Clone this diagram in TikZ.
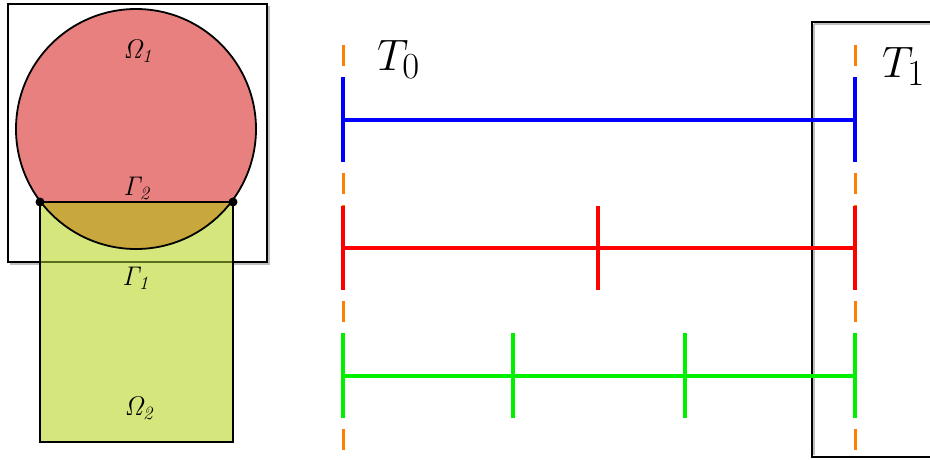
\documentclass[tikz,border=0pt]{standalone}
\usepackage{graphicx}
\usepackage{tikz}
\definecolor{circred}{RGB}{233,128,128}
\definecolor{rectgreen}{RGB}{212,230,124}
\definecolor{overlapc}{RGB}{200,168,60}
\definecolor{olivec}{RGB}{90,110,30}
\definecolor{tblue}{RGB}{0,0,255}
\definecolor{tred}{RGB}{255,0,0}
\definecolor{tgreen}{RGB}{0,240,0}
\definecolor{torange}{RGB}{255,128,0}
\tikzset{
  frame/.style={draw=black,line width=2pt},
  shadowline/.style={draw=black!25,line width=2pt},
  outline/.style={draw=black,line width=1.8pt},
  dlabel/.style={inner sep=0pt,anchor=base,font=\huge},
  tlabel/.style={inner sep=0pt,anchor=base west,font=\Huge},
  tline/.style={line width=3.5pt},
  guide/.style={draw=torange,line width=3pt,dash pattern=on 21pt off 11pt},
  jdot/.style={circle,fill=black,inner sep=0pt,minimum size=9pt}
}
\newcommand{\bigT}[1]{\scalebox{1.77}{$T_{#1}$}}
\newcommand{\glab}[2]{\scalebox{1.3}{$\mathit{#1}_{\mathit{#2}}$}}
\begin{document}
\begin{tikzpicture}[x=1pt,y=-1pt]
\useasboundingbox (0,0) rectangle (930,459);
% ---------- left panel ----------
\draw[shadowline] (10,264) -- (269,264) -- (269,6);
\draw[frame] (8,4) rectangle (267,262);
\fill[circred] (136,129) circle (120pt);
\fill[rectgreen] (40,202) rectangle (233,442);
\begin{scope}
  \clip (40,202) rectangle (233,442);
  \fill[overlapc] (136,129) circle (120pt);
\end{scope}
\draw[olivec,line width=2pt] (41,262) -- (232,262);
\draw[outline] (136,129) circle (120pt);
\draw[outline] (40,202) rectangle (233,442);
\node[jdot] (pl) at (40,202) {};
\node[jdot] (pr) at (233,202) {};
\node[dlabel] (om1) at (139,58) {\glab{\Omega}{1}};
\node[dlabel] (ga2) at (138,195) {\glab{\Gamma}{2}};
\node[dlabel] (ga1) at (137,285) {\glab{\Gamma}{1}};
\node[dlabel] (om2) at (140,415) {\glab{\Omega}{2}};
% ---------- right panel ----------
\draw[shadowline] (814,24) -- (945,24);
\draw[shadowline] (814,24) -- (814,455);
\draw[frame] (812,22) rectangle (945,457);
% guides
\coordinate (g0t) at (343,45); \coordinate (g0b) at (343,451);
\coordinate (g1t) at (855,45); \coordinate (g1b) at (855,451);
\draw[guide] (g0t) -- (g0b);
\draw[guide] (g1t) -- (g1b);
% blue
\coordinate (b0) at (343,120); \coordinate (b1) at (855,120);
\coordinate (b0t) at (343,77); \coordinate (b0b) at (343,162);
\coordinate (b1t) at (855,77); \coordinate (b1b) at (855,162);
\draw[tline,tblue] (b0) -- (b1);
\draw[tline,tblue] (b0t) -- (b0b);
\draw[tline,tblue] (b1t) -- (b1b);
% red
\coordinate (r0) at (343,248); \coordinate (r1) at (855,248);
\coordinate (r0t) at (343,206); \coordinate (r0b) at (343,290);
\coordinate (rmt) at (598,206); \coordinate (rmb) at (598,290);
\coordinate (r1t) at (855,206); \coordinate (r1b) at (855,290);
\draw[tline,tred] (r0) -- (r1);
\draw[tline,tred] (r0t) -- (r0b);
\draw[tline,tred] (rmt) -- (rmb);
\draw[tline,tred] (r1t) -- (r1b);
% green
\coordinate (e0) at (343,376); \coordinate (e1) at (855,376);
\coordinate (e0t) at (343,333); \coordinate (e0b) at (343,418);
\coordinate (eat) at (513,333); \coordinate (eab) at (513,418);
\coordinate (ebt) at (685,333); \coordinate (ebb) at (685,418);
\coordinate (e1t) at (855,333); \coordinate (e1b) at (855,418);
\draw[tline,tgreen] (e0) -- (e1);
\draw[tline,tgreen] (e0t) -- (e0b);
\draw[tline,tgreen] (eat) -- (eab);
\draw[tline,tgreen] (ebt) -- (ebb);
\draw[tline,tgreen] (e1t) -- (e1b);
% labels
\node[tlabel] (t0) at (377,70) {\bigT{0}};
\node[tlabel] (t1) at (882,77) {\bigT{1}};
\end{tikzpicture}
\end{document}
